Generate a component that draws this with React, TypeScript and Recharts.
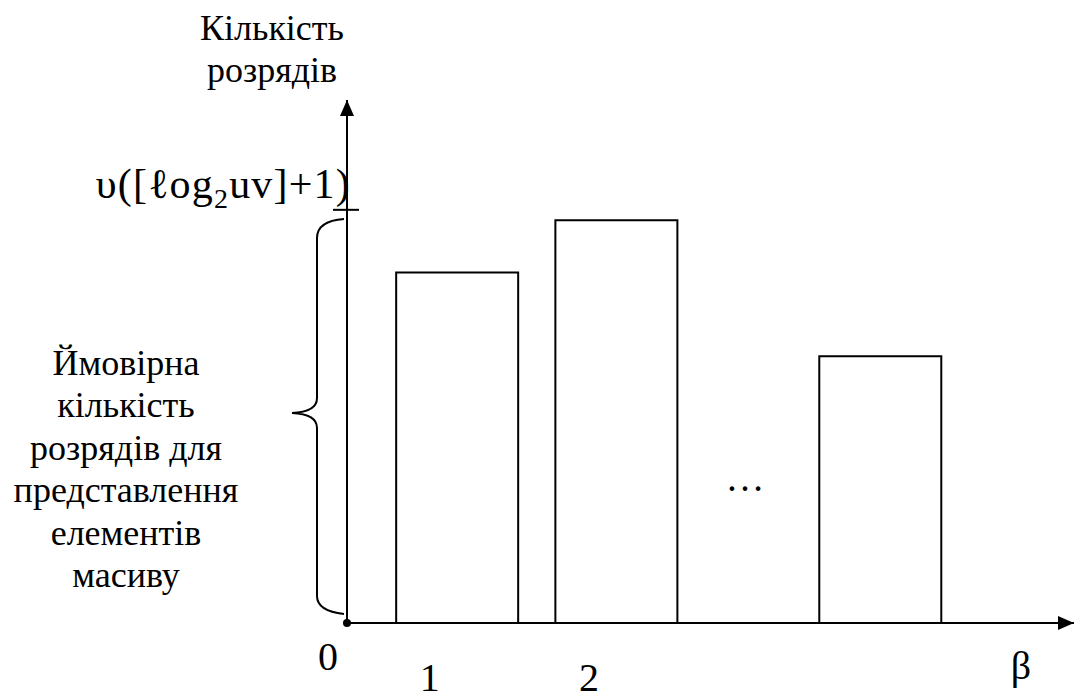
import { BarChart, Bar, XAxis, YAxis, ReferenceDot } from 'recharts';

// positions of the bars on the β axis (0..10) and their digit counts
const betaPositions = [1.51, 3.7, 7.33];
const betaLabels = ['1', '2', ''];
const digitCounts = [67, 77, 51];
const digitLimit = 79;

const yTitle = ['Кількість', 'розрядів'];
const braceNote = ['Ймовірна', 'кількість', 'розрядів для', 'представлення', 'елементів', 'масиву'];

const data = betaPositions.map((beta, i) => ({ beta, label: betaLabels[i], digits: digitCounts[i] }));

const serif = "'Liberation Serif', 'Times New Roman', serif";

const BetaTick = ({ x, y, payload }: any) => {
  const idx = betaPositions.indexOf(payload.value);
  return (
    <text x={x - 27} y={y + 68} textAnchor="middle" fontSize={40} fontFamily={serif} fill="#000">
      {betaLabels[idx]}
    </text>
  );
};

const LimitTick = ({ x, y }: any) => (
  <g>
    <line x1={x - 14} x2={x + 12} y1={y} y2={y} stroke="#000" strokeWidth={2} />
    <text
      x={x + 4}
      y={y - 12}
      textAnchor="end"
      fontSize={42}
      letterSpacing={1.2}
      fontFamily={serif}
      fill="#000"
    >
      υ([ℓog<tspan fontSize={28} dy={10}>2</tspan>
      <tspan dy={-10}>uv]+1)</tspan>
    </text>
  </g>
);

const ArrowUp = ({ cx, cy }: any) => (
  <polygon points={`${cx},${cy} ${cx - 7},${cy + 16} ${cx + 7},${cy + 16}`} fill="#000" />
);

const ArrowRight = ({ cx, cy }: any) => (
  <polygon points={`${cx},${cy} ${cx - 16},${cy - 7} ${cx - 16},${cy + 7}`} fill="#000" />
);

export default function App() {
  return (
    <div style={{ position: 'absolute', left: 0, top: 0, width: 1074, height: 700, background: '#fff' }}>
      <BarChart width={1074} height={700} data={data} margin={{ top: 100, right: 0, bottom: 76, left: 346 }}>
        <XAxis
          type="number"
          dataKey="beta"
          domain={[0, 10]}
          ticks={betaPositions}
          height={1}
          tickSize={0}
          tickMargin={0}
          tickLine={false}
          axisLine={{ stroke: '#000', strokeWidth: 2 }}
          tick={<BetaTick />}
          interval={0}
          allowDataOverflow
        />
        <YAxis
          type="number"
          domain={[0, 100]}
          ticks={[digitLimit]}
          width={1}
          tickSize={0}
          tickMargin={0}
          tickLine={false}
          axisLine={{ stroke: '#000', strokeWidth: 2 }}
          tick={<LimitTick />}
          interval={0}
          allowDataOverflow
        />
        <Bar dataKey="digits" fill="#fff" stroke="#000" strokeWidth={2} barSize={122} isAnimationActive={false} />
        <ReferenceDot x={0} y={100} ifOverflow="visible" shape={<ArrowUp />} />
        <ReferenceDot x={10} y={0} ifOverflow="visible" shape={<ArrowRight />} />
        <ReferenceDot x={0} y={0} r={4} fill="#000" stroke="none" ifOverflow="visible" />
      </BarChart>
      <svg
        width={1074}
        height={700}
        style={{ position: 'absolute', left: 0, top: 0, pointerEvents: 'none' }}
        fontFamily={serif}
        fill="#000"
      >
        {yTitle.map((t, i) => (
          <text key={t} x={272} y={40 + i * 42} textAnchor="middle" fontSize={36}>
            {t}
          </text>
        ))}
        {braceNote.map((t, i) => (
          <text key={t} x={126} y={375 + i * 42.4} textAnchor="middle" fontSize={36}>
            {t}
          </text>
        ))}
        <path
          d="M344,219 Q317,221 317,238 L317,398 Q317,412 292,413 Q317,414 317,428 L317,596 Q317,611 344,614"
          fill="none"
          stroke="#000"
          strokeWidth={2}
        />
        <text x={745} y={491} textAnchor="middle" fontSize={39}>…</text>
        <text x={328} y={670} textAnchor="middle" fontSize={40}>0</text>
        <text x={1021} y={679} textAnchor="middle" fontSize={40}>β</text>
      </svg>
    </div>
  );
}
